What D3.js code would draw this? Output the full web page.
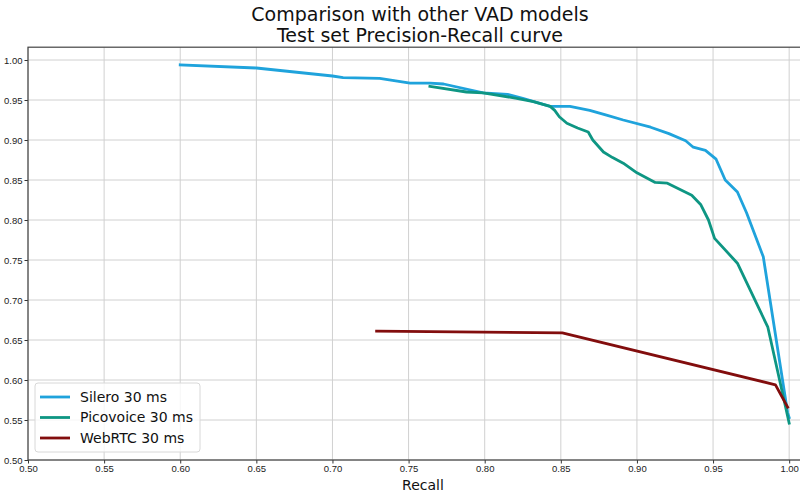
<!DOCTYPE html>
<html>
<head>
<meta charset="utf-8">
<script src="https://cdn.jsdelivr.net/npm/d3@7"></script>
<style>
  body { margin: 0; background: #fff; }
  svg { font-family: "DejaVu Sans", sans-serif; }
</style>
</head>
<body>
<div id="chart"></div>
<script>
// values
var seriesNames = ["Silero 30 ms", "Picovoice 30 ms", "WebRTC 30 ms"];
var seriesColors = ["#1fa3dc", "#0e9683", "#820d0d"];

var sileroRecall = [0.600, 0.650, 0.700, 0.707, 0.731, 0.751, 0.764, 0.773, 0.799, 0.815, 0.825, 0.843, 0.856, 0.869, 0.880, 0.891, 0.909, 0.921, 0.932, 0.937, 0.945, 0.952, 0.958, 0.966, 0.972, 0.983, 0.999, 1.000];
var sileroPrecision = [0.994, 0.990, 0.980, 0.978, 0.977, 0.971, 0.971, 0.970, 0.959, 0.957, 0.952, 0.942, 0.942, 0.937, 0.931, 0.925, 0.916, 0.908, 0.899, 0.891, 0.887, 0.876, 0.850, 0.835, 0.809, 0.754, 0.559, 0.553];

var picoRecall = [0.764, 0.788, 0.799, 0.821, 0.832, 0.843, 0.846, 0.849, 0.854, 0.861, 0.868, 0.871, 0.878, 0.884, 0.891, 0.900, 0.912, 0.920, 0.936, 0.942, 0.947, 0.951, 0.966, 0.986, 1.000];
var picoPrecision = [0.967, 0.960, 0.959, 0.952, 0.948, 0.942, 0.937, 0.929, 0.921, 0.915, 0.910, 0.900, 0.885, 0.878, 0.871, 0.859, 0.847, 0.846, 0.831, 0.819, 0.800, 0.777, 0.746, 0.666, 0.546];

var webrtcRecall = [0.729, 0.851, 0.991, 0.999];
var webrtcPrecision = [0.661, 0.659, 0.594, 0.566];

var xTicks = [0.50, 0.55, 0.60, 0.65, 0.70, 0.75, 0.80, 0.85, 0.90, 0.95, 1.00];
var yTicks = [0.50, 0.55, 0.60, 0.65, 0.70, 0.75, 0.80, 0.85, 0.90, 0.95, 1.00];

var width = 800, height = 500;
var plotLeft = 28, plotTop = 47.2, plotRight = 812, plotBottom = 460;

var series = [
  { name: seriesNames[0], color: seriesColors[0], x: sileroRecall, y: sileroPrecision },
  { name: seriesNames[1], color: seriesColors[1], x: picoRecall, y: picoPrecision },
  { name: seriesNames[2], color: seriesColors[2], x: webrtcRecall, y: webrtcPrecision }
];

var svg = d3.select("#chart").append("svg")
  .attr("width", width)
  .attr("height", height);

var x = d3.scaleLinear().domain([0.5, 1.015]).range([plotLeft, plotRight]);
var y = d3.scaleLinear().domain([0.5, 1.016]).range([plotBottom, plotTop]);

// grid
svg.append("g").selectAll("line")
  .data(xTicks)
  .enter().append("line")
  .attr("x1", function(d) { return x(d); })
  .attr("x2", function(d) { return x(d); })
  .attr("y1", plotTop).attr("y2", plotBottom)
  .style("stroke", "#d0d0d0").style("stroke-width", 1);

svg.append("g").selectAll("line")
  .data(yTicks)
  .enter().append("line")
  .attr("x1", plotLeft).attr("x2", plotRight)
  .attr("y1", function(d) { return y(d); })
  .attr("y2", function(d) { return y(d); })
  .style("stroke", "#d0d0d0").style("stroke-width", 1);

// curves
var line = d3.line()
  .x(function(d) { return x(d[0]); })
  .y(function(d) { return y(d[1]); });

svg.append("g").selectAll("path")
  .data(series)
  .enter().append("path")
  .attr("d", function(s) { return line(d3.zip(s.x, s.y)); })
  .style("fill", "none")
  .style("stroke", function(s) { return s.color; })
  .style("stroke-width", 2.8)
  .style("stroke-linejoin", "round")
  .style("stroke-linecap", "square");

// axes
var xAxis = svg.append("g")
  .attr("transform", "translate(0," + plotBottom + ")")
  .call(d3.axisBottom(x).tickValues(xTicks).tickFormat(d3.format(".2f")).tickSize(3.5).tickPadding(2));
var yAxis = svg.append("g")
  .attr("transform", "translate(" + plotLeft + ",0)")
  .call(d3.axisLeft(y).tickValues(yTicks).tickFormat(d3.format(".2f")).tickSize(3.5).tickPadding(2));

[xAxis, yAxis].forEach(function(a) {
  a.select(".domain").remove();
  a.selectAll("text").style("font-size", "9.5px").style("fill", "#222");
  a.selectAll(".tick line").style("stroke", "#333");
});

// frame
svg.append("rect")
  .attr("x", plotLeft).attr("y", plotTop)
  .attr("width", plotRight - plotLeft).attr("height", plotBottom - plotTop)
  .style("fill", "none").style("stroke", "#444").style("stroke-width", 1.2);

// titles
svg.append("text")
  .attr("x", (plotLeft + plotRight) / 2).attr("y", 21)
  .attr("text-anchor", "middle")
  .style("font-size", "19px").style("fill", "#111")
  .text("Comparison with other VAD models");
svg.append("text")
  .attr("x", (plotLeft + plotRight) / 2).attr("y", 42)
  .attr("text-anchor", "middle")
  .style("font-size", "19px").style("fill", "#111")
  .text("Test set Precision-Recall curve");

svg.append("text")
  .attr("x", (plotLeft + plotRight) / 2 + 3).attr("y", 490)
  .attr("text-anchor", "middle")
  .style("font-size", "14px").style("fill", "#111")
  .text("Recall");

// legend
var legend = svg.append("g");
legend.append("rect")
  .attr("x", 35).attr("y", 383)
  .attr("width", 165).attr("height", 69)
  .attr("rx", 3)
  .style("fill", "rgba(255,255,255,0.8)")
  .style("stroke", "#d8d8d8");

var item = legend.selectAll("g")
  .data(series)
  .enter().append("g")
  .attr("transform", function(d, i) { return "translate(0," + (397 + i * 20.5) + ")"; });

item.append("line")
  .attr("x1", 40).attr("x2", 70)
  .style("stroke", function(d) { return d.color; })
  .style("stroke-width", 2.8);

item.append("text")
  .attr("x", 80).attr("dy", "0.35em")
  .style("font-size", "14px").style("fill", "#111")
  .text(function(d) { return d.name; });
</script>
</body>
</html>
